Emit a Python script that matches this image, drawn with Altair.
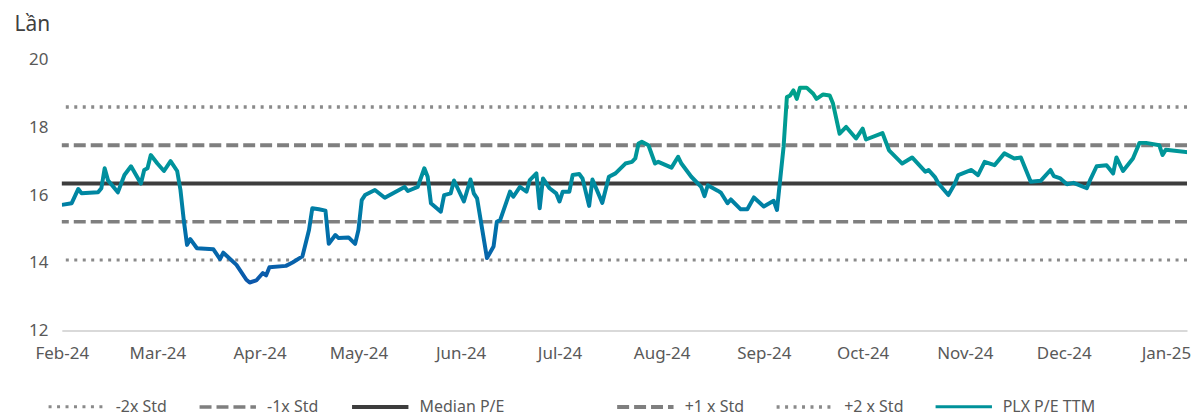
import altair as alt
import pandas as pd

FONT = "Noto Sans"

dates = [
    "2024-02-01", "2024-02-04", "2024-02-06", "2024-02-07", "2024-02-12", "2024-02-13",
    "2024-02-14", "2024-02-15", "2024-02-18", "2024-02-20", "2024-02-22", "2024-02-25",
    "2024-02-26", "2024-02-27", "2024-02-28", "2024-03-01", "2024-03-03", "2024-03-05",
    "2024-03-07", "2024-03-08", "2024-03-09", "2024-03-10", "2024-03-11", "2024-03-13",
    "2024-03-18", "2024-03-20", "2024-03-21", "2024-03-25", "2024-03-28", "2024-03-29",
    "2024-03-31", "2024-04-02", "2024-04-03", "2024-04-04", "2024-04-09", "2024-04-11",
    "2024-04-14", "2024-04-16", "2024-04-17", "2024-04-19", "2024-04-21", "2024-04-22",
    "2024-04-24", "2024-04-25", "2024-04-28", "2024-04-30", "2024-05-01", "2024-05-02",
    "2024-05-03", "2024-05-06", "2024-05-09", "2024-05-15", "2024-05-16", "2024-05-19",
    "2024-05-21", "2024-05-22", "2024-05-23", "2024-05-26", "2024-05-27", "2024-05-29",
    "2024-05-30", "2024-06-02", "2024-06-04", "2024-06-05", "2024-06-06", "2024-06-09",
    "2024-06-11", "2024-06-12", "2024-06-13", "2024-06-16", "2024-06-17", "2024-06-19",
    "2024-06-21", "2024-06-22", "2024-06-24", "2024-06-25", "2024-06-26", "2024-06-28",
    "2024-06-30", "2024-07-01", "2024-07-02", "2024-07-04", "2024-07-05", "2024-07-07",
    "2024-07-08", "2024-07-10", "2024-07-11", "2024-07-14", "2024-07-16", "2024-07-18",
    "2024-07-21", "2024-07-23", "2024-07-24", "2024-07-25", "2024-07-26", "2024-07-28",
    "2024-07-30", "2024-07-31", "2024-08-04", "2024-08-06", "2024-08-07", "2024-08-10",
    "2024-08-13", "2024-08-14", "2024-08-15", "2024-08-18", "2024-08-19", "2024-08-21",
    "2024-08-22", "2024-08-25", "2024-08-27", "2024-08-29", "2024-09-01", "2024-09-04",
    "2024-09-05", "2024-09-07", "2024-09-08", "2024-09-09", "2024-09-10", "2024-09-11",
    "2024-09-12", "2024-09-14", "2024-09-16", "2024-09-17", "2024-09-19", "2024-09-21",
    "2024-09-22", "2024-09-24", "2024-09-26", "2024-09-29", "2024-10-01", "2024-10-02",
    "2024-10-07", "2024-10-09", "2024-10-13", "2024-10-16", "2024-10-20", "2024-10-21",
    "2024-10-23", "2024-10-24", "2024-10-27", "2024-10-29", "2024-10-30", "2024-11-03",
    "2024-11-05", "2024-11-07", "2024-11-10", "2024-11-13", "2024-11-16", "2024-11-18",
    "2024-11-21", "2024-11-24", "2024-11-27", "2024-11-28", "2024-11-30", "2024-12-02",
    "2024-12-04", "2024-12-08", "2024-12-09", "2024-12-11", "2024-12-14", "2024-12-16",
    "2024-12-17", "2024-12-19", "2024-12-22", "2024-12-24", "2024-12-26", "2024-12-30",
    "2024-12-31", "2025-01-01", "2025-01-10",
]

pe_ttm = [
    15.71, 15.76, 16.18, 16.05, 16.08, 16.20,
    16.79, 16.44, 16.08, 16.59, 16.85, 16.34,
    16.74, 16.79, 17.18, 16.93, 16.71, 17.00,
    16.71, 16.15, 15.26, 14.53, 14.70, 14.43,
    14.40, 14.11, 14.30, 13.94, 13.50, 13.42,
    13.48, 13.70, 13.63, 13.87, 13.91, 14.01,
    14.19, 14.97, 15.61, 15.58, 15.54, 14.56,
    14.82, 14.73, 14.75, 14.56, 14.97, 15.85,
    16.00, 16.15, 15.92, 16.24, 16.12, 16.24,
    16.79, 16.54, 15.76, 15.51, 16.00, 16.05,
    16.43, 15.81, 16.46, 16.05, 15.90, 14.14,
    14.48, 15.21, 15.26, 16.10, 15.95, 16.24,
    16.10, 16.44, 16.64, 15.61, 16.49, 16.20,
    16.05, 15.81, 16.10, 16.10, 16.59, 16.62,
    16.49, 15.68, 16.46, 15.77, 16.54, 16.64,
    16.93, 16.98, 17.08, 17.52, 17.57, 17.47,
    16.93, 16.98, 16.81, 17.13, 16.93, 16.54,
    16.24, 15.97, 16.29, 16.13, 16.07, 15.76,
    15.87, 15.58, 15.58, 15.93, 15.66, 15.83,
    15.56, 17.42, 18.89, 18.94, 19.09, 18.84,
    19.17, 19.17, 18.99, 18.84, 18.97, 18.94,
    18.70, 17.81, 18.01, 17.67, 17.96, 17.64,
    17.83, 17.32, 16.93, 17.11, 16.69, 16.74,
    16.52, 16.34, 16.00, 16.34, 16.59, 16.74,
    16.59, 16.98, 16.88, 17.23, 17.08, 17.11,
    16.39, 16.42, 16.74, 16.56, 16.49, 16.32,
    16.36, 16.20, 16.44, 16.85, 16.88, 16.64,
    17.11, 16.71, 17.08, 17.54, 17.54, 17.47,
    17.18, 17.34, 17.24,
]

# lower group of reference lines (first legend block)
lo_names = ["-2x Std", "-1x Std", "Median P/E"]
lo_values = [14.08, 15.21, 16.34]
lo_colors = ["#8a8a8a", "#7f7f7f", "#3d3d3d"]
lo_dashes = [[3, 5.5], [12, 5], [1, 0]]
lo_widths = [3, 4, 4]

# upper group of reference lines + the P/E series (second legend block)
hi_names = ["+1 x Std", "+2 x Std", "PLX P/E TTM"]
hi_values = [17.47, 18.60]
hi_colors = ["#7f7f7f", "#8a8a8a", "#00929a"]
hi_dashes = [[12, 5], [3, 5.5], [1, 0]]
hi_widths = [4, 3, 4]

y_ticks = [12, 14, 16, 18, 20]
month_ticks = [(2024, m) for m in range(2, 13)] + [(2025, 1)]

line_df = pd.DataFrame({"date": dates, "pe": pe_ttm})
lo_df = pd.DataFrame({"lo": lo_names, "value": lo_values})
hi_df = pd.DataFrame({"hi": hi_names[:2], "value": hi_values})

y_axis = alt.Axis(
    values=y_ticks, domain=False, ticks=False, grid=False,
    labelFont=FONT, labelFontSize=17, labelColor="#595959", labelPadding=14,
    title="Lần", titleAngle=0, titleX=-48, titleY=-29, titleAlign="left",
    titleBaseline="alphabetic", titleFont=FONT, titleFontSize=21,
    titleFontWeight="normal", titleColor="#404040",
)
y_scale = alt.Scale(domain=[12, 20], nice=False, zero=False)

x_axis = alt.Axis(
    values=[alt.DateTime(year=y, month=m, date=1, utc=True) for (y, m) in month_ticks],
    format="%b-%y", labelFont=FONT, labelFontSize=17, labelColor="#595959",
    domainColor="#d9d9d9", domainWidth=2, ticks=False, grid=False,
    labelPadding=15, title=None, labelFlush=False, labelOverlap=False,
)
x_scale = alt.Scale(
    type="utc",
    domain=[alt.DateTime(year=2024, month=2, date=1, utc=True),
            alt.DateTime(year=2025, month=1, date=7, hours=10, utc=True)],
)


def make_legend(x):
    return alt.Legend(
        orient="none", legendX=x, legendY=318, direction="horizontal", title=None,
        symbolType="stroke", symbolSize=3200, symbolStrokeWidth=3.5,
        labelFont=FONT, labelFontSize=16, labelColor="#595959", labelOffset=9,
        columnPadding=25, labelLimit=0,
    )


leg_lo = make_legend(-15)
leg_hi = make_legend(555)

rules_lo = alt.Chart(lo_df).mark_rule().encode(
    y=alt.Y("value:Q", scale=y_scale, axis=y_axis),
    color=alt.Color("lo:N", scale=alt.Scale(domain=lo_names, range=lo_colors), legend=leg_lo),
    strokeDash=alt.StrokeDash("lo:N", scale=alt.Scale(domain=lo_names, range=lo_dashes), legend=leg_lo),
    strokeWidth=alt.StrokeWidth("lo:N", scale=alt.Scale(domain=lo_names, range=lo_widths), legend=None),
)

rules_hi = alt.Chart(hi_df).mark_rule().encode(
    y=alt.Y("value:Q", scale=y_scale, axis=y_axis),
    color=alt.Color("hi:N", scale=alt.Scale(domain=hi_names, range=hi_colors), legend=leg_hi),
    strokeDash=alt.StrokeDash("hi:N", scale=alt.Scale(domain=hi_names, range=hi_dashes), legend=leg_hi),
    strokeWidth=alt.StrokeWidth("hi:N", scale=alt.Scale(domain=hi_names, range=hi_widths), legend=None),
)

gradient = alt.Gradient(
    gradient="linear",
    stops=[
        alt.GradientStop(offset=0, color="#00a18a"),
        alt.GradientStop(offset=0.38, color="#00959b"),
        alt.GradientStop(offset=0.55, color="#0086a2"),
        alt.GradientStop(offset=0.72, color="#0072aa"),
        alt.GradientStop(offset=1, color="#0c58ab"),
    ],
    x1=0, x2=0, y1=0, y2=1,
)

line = alt.Chart(line_df).mark_line(color=gradient, strokeWidth=4, clip=True, strokeJoin="round").encode(
    x=alt.X("date:T", scale=x_scale, axis=x_axis),
    y=alt.Y("pe:Q", scale=y_scale, axis=y_axis),
)

chart = alt.layer(rules_lo, rules_hi, line).resolve_scale(
    color="independent", strokeDash="independent", strokeWidth="independent"
).properties(
    width=1129, height=272,
    padding={"left": 6, "top": 5, "right": 0, "bottom": 0},
    background="white",
).configure_view(stroke=None)

chart.save("out.html", embed_options={"renderer": "svg", "actions": False})
